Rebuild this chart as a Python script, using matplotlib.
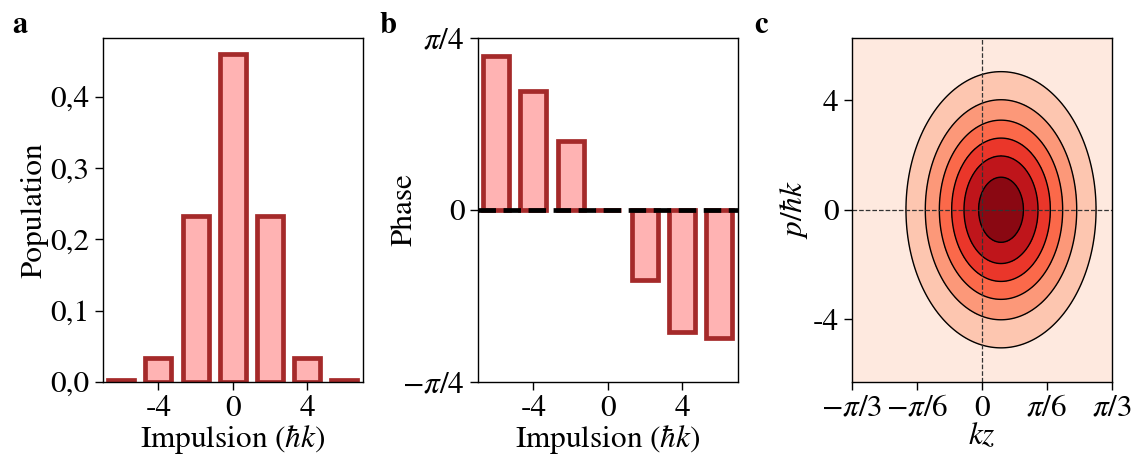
import numpy as np
import matplotlib
matplotlib.use("Agg")
import matplotlib.pyplot as plt

plt.rcParams['font.family'] = 'serif'
plt.rcParams['font.serif'] = ['STIXGeneral', 'Liberation Serif', 'DejaVu Serif']
plt.rcParams['mathtext.fontset'] = 'stix'
plt.rcParams['axes.unicode_minus'] = False
plt.rcParams['font.size'] = 22.5
plt.rcParams['axes.linewidth'] = 1.0
plt.rcParams['xtick.major.width'] = 1.0
plt.rcParams['ytick.major.width'] = 1.0
plt.rcParams['xtick.major.size'] = 6
plt.rcParams['ytick.major.size'] = 6

# momentum orders (units of hbar k)
momenta = [-6, -4, -2, 0, 2, 4, 6]
population = [0.002, 0.034, 0.233, 0.460, 0.233, 0.034, 0.002]
phase = [0.700, 0.544, 0.314, 0.0, -0.319, -0.558, -0.585]

# phase-space distribution (panel c)
kz_center = 0.155
p_center = 0.0
kz_width = 0.393
p_width = 2.59
levels = [0, 0.15, 0.30, 0.45, 0.60, 0.75, 0.90, 1.05]

face = '#ffb3b3'
edge = '#a52a2a'

fig = plt.figure(figsize=(11.31, 4.55), dpi=100)
ax_a = fig.add_axes([0.0908, 0.161, 0.2301, 0.756])
ax_b = fig.add_axes([0.4224, 0.161, 0.2299, 0.756])
ax_c = fig.add_axes([0.7531, 0.161, 0.2299, 0.756])

# a: populations
ax_a.bar(momenta, population, width=1.4, color=face, edgecolor=edge, linewidth=3.4)
ax_a.set_xlim(-7, 7)
ax_a.set_ylim(0, 0.483)
ax_a.set_xticks([-4, 0, 4])
ax_a.set_yticks([0, 0.1, 0.2, 0.3, 0.4])
ax_a.set_yticklabels(['0,0', '0,1', '0,2', '0,3', '0,4'])
ax_a.set_xlabel(r'Impulsion ($\hbar k$)', labelpad=0)
ax_a.set_ylabel('Population', labelpad=1)

# b: phases
ax_b.bar(momenta, phase, width=1.4, color=face, edgecolor=edge, linewidth=3.4, zorder=2)
ax_b.axhline(0, color='k', ls='--', lw=3.4, zorder=3)
ax_b.set_xlim(-7, 7)
ax_b.set_ylim(-np.pi / 4, np.pi / 4)
ax_b.set_xticks([-4, 0, 4])
ax_b.set_yticks([-np.pi / 4, 0, np.pi / 4])
ax_b.set_yticklabels([r'$-\pi/4$', '0', r'$\pi/4$'])
ax_b.set_xlabel(r'Impulsion ($\hbar k$)', labelpad=0)
ax_b.set_ylabel('Phase', labelpad=-12)

# c: phase-space contours
kz = np.linspace(-np.pi / 3, np.pi / 3, 400)
p = np.linspace(-2 * np.pi, 2 * np.pi, 400)
KZ, P = np.meshgrid(kz, p)
W = np.exp(-(KZ - kz_center) ** 2 / (2 * kz_width ** 2) - (P - p_center) ** 2 / (2 * p_width ** 2))
ax_c.contourf(KZ, P, W, levels=levels, cmap='Reds')
ax_c.contour(KZ, P, W, levels=levels[1:-1], colors='k', linewidths=1.0)
ax_c.axhline(0, color='#333333', ls='--', lw=0.9)
ax_c.axvline(0, color='#333333', ls='--', lw=0.9)
ax_c.set_xlim(-np.pi / 3, np.pi / 3)
ax_c.set_ylim(-2 * np.pi, 2 * np.pi)
ax_c.set_xticks([-np.pi / 3, -np.pi / 6, 0, np.pi / 6, np.pi / 3])
ax_c.set_xticklabels([r'$-\pi/3$', r'$-\pi/6$', '0', r'$\pi/6$', r'$\pi/3$'])
ax_c.set_yticks([-4, 0, 4])
ax_c.set_xlabel(r'$kz$', labelpad=0)
ax_c.set_ylabel(r'$p/\hbar k$', labelpad=2)

for x, letter in [(12, 'a'), (379, 'b'), (754, 'c')]:
    fig.text(x / 1131, 1 - 33 / 455, letter, fontsize=22, fontweight='bold', va='baseline')

fig.savefig('out.png', dpi=100)
